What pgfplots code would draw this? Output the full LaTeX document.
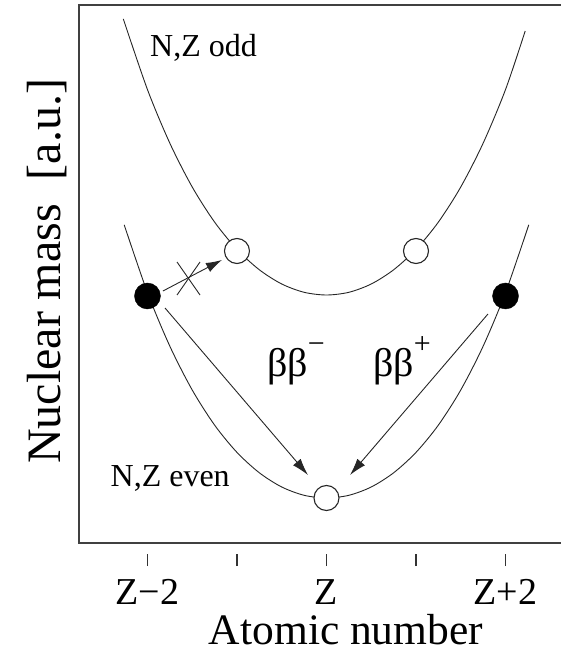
\documentclass[border=0pt]{standalone}
\usepackage{fontspec}
\setmainfont{Liberation Serif}
\usepackage{pgfplots}
\pgfplotsset{compat=1.18}
\usetikzlibrary{arrows.meta}
\begin{document}
\begin{tikzpicture}[x=1pt,y=1pt]
\path[use as bounding box] (0,0) rectangle (561,654);
\begin{axis}[
  at={(79pt,111pt)}, anchor=south west,
  scale only axis, width=482pt, height=538pt,
  xmin=-2.765, xmax=2.620, ymin=0, ymax=5.38,
  axis line style={draw=none},
  xtick={-2,-1,0,1,2},
  xticklabels={Z−2,,Z,,Z+2},
  ytick=\empty,
  xtick pos=bottom,
  tick align=inside,
  major tick length=12pt,
  xtick style={line width=1.3pt, black!80, yshift=-23pt},
  xticklabel style={anchor=base, yshift=-61pt, font=\fontsize{38}{40}\selectfont},
  xlabel={Atomic number},
  xlabel style={at={(axis description cs:0.554,0)}, anchor=base, inner sep=0pt, yshift=-101pt, font=\fontsize{43.5}{45}\selectfont},
  ylabel={Nuclear mass\hspace{0.5em}[a.u.]},
  ylabel style={at={(axis description cs:-0.039,0.505)}, anchor=base, inner sep=0pt, font=\fontsize{48}{50}\selectfont},
  clip=false,
]
% box: left, top, bottom (right side lies beyond the picture)
\draw[line width=1.4pt, black!75] (rel axis cs:1.01,1) -- (rel axis cs:0,1) -- (rel axis cs:0,0) -- (rel axis cs:1.01,0);
% N,Z odd
\addplot[smooth, line width=0.9pt, black!85] coordinates {
(-2.27,5.241) (-2,4.534) (-1.75,3.998) (-1.5,3.560) (-1.25,3.209) (-1,2.936)
(-0.75,2.732) (-0.5,2.590) (-0.25,2.507) (0,2.480) (0.25,2.507) (0.5,2.590)
(0.75,2.732) (1,2.936) (1.25,3.209) (1.5,3.560) (1.75,3.998) (2,4.534) (2.22,5.120)};
% N,Z even
\addplot[smooth, line width=0.9pt, black!85] coordinates {
(-2.26,3.182) (-2,2.504) (-1.75,1.968) (-1.5,1.530) (-1.25,1.179) (-1,0.906)
(-0.75,0.702) (-0.5,0.560) (-0.25,0.477) (0,0.450) (0.25,0.477) (0.5,0.560)
(0.75,0.702) (1,0.906) (1.25,1.179) (1.5,1.530) (1.75,1.968) (2,2.504) (2.26,3.182)};
% open circles
\addplot[only marks, mark=*, mark size=12.5pt, mark options={fill=white, draw=black!85, line width=1.1pt}] coordinates {(-1,2.92) (1,2.92) (0,0.45)};
% filled circles
\addplot[only marks, mark=*, mark size=13pt, mark options={fill=black, draw=black}] coordinates {(-2,2.47) (2,2.47)};
% arrows
\draw[line width=0.9pt, black!85, -{Latex[length=17pt,width=10pt]}] (axis cs:-1.804,2.35) -- (axis cs:-0.207,0.68);
\draw[line width=0.9pt, black!85, -{Latex[length=17pt,width=10pt]}] (axis cs:1.804,2.29) -- (axis cs:0.263,0.68);
\draw[line width=0.9pt, black!85, -{Latex[length=16pt,width=10pt]}] (axis cs:-1.827,2.52) -- (axis cs:-1.168,2.83);
% cross
\draw[line width=0.9pt, black!85] (axis cs:-1.670,2.81) -- (axis cs:-1.413,2.48);
\draw[line width=0.9pt, black!85] (axis cs:-1.413,2.81) -- (axis cs:-1.670,2.48);
% labels
\node[anchor=base west, inner sep=0, font=\fontsize{32}{34}\selectfont] at (axis cs:-1.972,4.86) {N,Z odd};
\node[anchor=base west, inner sep=0, font=\fontsize{32}{34}\selectfont] at (axis cs:-2.413,0.56) {N,Z even};
\node[anchor=base west, inner sep=0, font=\fontsize{40}{42}\selectfont] at (axis cs:-0.665,1.66) {ββ\raisebox{23pt}{\fontsize{30}{32}\selectfont −}};
\node[anchor=base west, inner sep=0, font=\fontsize{40}{42}\selectfont] at (axis cs:0.520,1.66) {ββ\raisebox{23pt}{\fontsize{30}{32}\selectfont +}};
\end{axis}
\end{tikzpicture}
\end{document}
